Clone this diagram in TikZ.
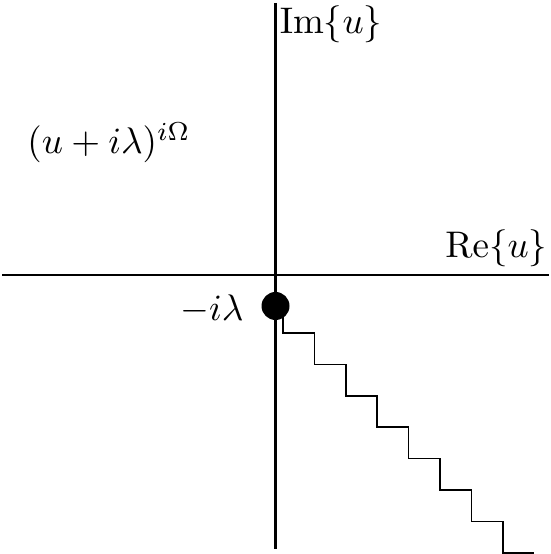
\documentclass[tikz,border=0pt]{standalone}
\begin{document}
\begin{tikzpicture}[x=0.27pt,y=-0.27pt,
  axis/.style={line width=0.8pt},
  stair/.style={line width=0.45pt},
  lbl/.style={inner sep=0pt},
  pointmark/.style={circle,fill=black,inner sep=0pt,minimum size=7.56pt}]
\useasboundingbox (0,0) rectangle (550,554);
\coordinate (xl) at (2,275);
\coordinate (xr) at (549,275);
\coordinate (yt) at (275.5,3);
\coordinate (yb) at (275.5,549);
\draw[axis] (xl) -- (xr);
\draw[axis] (yt) -- (yb);
\coordinate (cutstart) at (283,306);
\draw[stair] (cutstart) -- (283,333) \foreach \k in {1,...,7} { -- ++(31.4,0) -- ++(0,31.4) } -- ++(31,0);
\node[pointmark] (pole) at (275.5,306) {};
\node[lbl,anchor=west] (im) at (279,24) {$\mathrm{Im}\{u\}$};
\node[lbl,anchor=east] (re) at (548,248) {$\mathrm{Re}\{u\}$};
\node[lbl] (f) at (109,143) {$(u+i\lambda)^{i\Omega}$};
\node[lbl] (pl) at (212,309) {$-i\lambda$};
\end{tikzpicture}
\end{document}
